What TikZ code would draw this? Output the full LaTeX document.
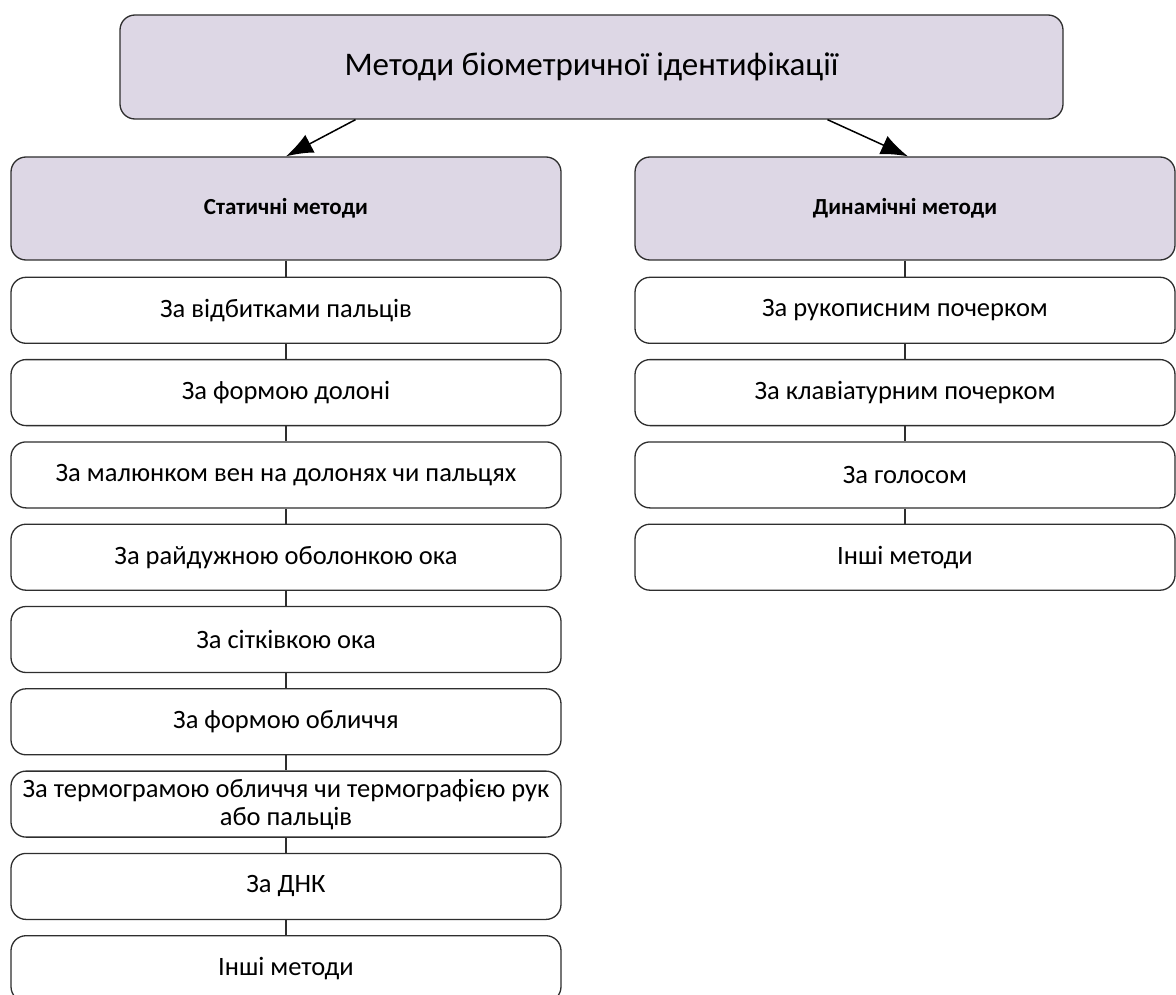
\documentclass[tikz,border=0pt]{standalone}
\usepackage{fontspec}
\setmainfont{Carlito}
\usetikzlibrary{positioning,arrows.meta}
\definecolor{bmlav}{HTML}{DDD7E5}
\definecolor{bmline}{HTML}{2E2E2E}
\tikzset{
  bmbox/.style  ={rectangle, rounded corners=15pt, draw=bmline, line width=1.3pt,
                  fill=white, text=black, align=center, font=\fontsize{26.5}{28}\selectfont,
                  minimum height=66pt, inner sep=1pt},
  bmhead/.style ={bmbox, fill=bmlav, minimum height=103pt,
                  font=\fontsize{23}{27}\selectfont\bfseries},
  bmtop/.style  ={bmbox, fill=bmlav, minimum height=104pt, minimum width=943pt,
                  font=\fontsize{33}{38}\selectfont},
  bml/.style    ={bmbox, minimum width=550pt},
  bmr/.style    ={bmbox, minimum width=540pt},
  bmarr/.style  ={-{Latex[length=27pt,width=20pt]}, line width=1.5pt, draw=black},
  bmlink/.style ={line width=1.3pt, draw=bmline}
}
\begin{document}
\begin{tikzpicture}[node distance=15pt]
  \clip (0,0) rectangle (1176pt,-995pt);
  \node[bmtop] (top) at (591.5pt,-67pt) {Методи біометричної ідентифікації};
  \node[bmhead,minimum width=550pt] (lhead) at (286pt,-208.5pt) {Статичні методи};
  \node[bmhead,minimum width=540pt] (rhead) at (905pt,-208.5pt) {Динамічні методи};
  \draw[bmarr] ([xshift=-236pt]top.south) -- (lhead.north);
  \draw[bmarr] ([xshift=236pt]top.south) -- ([xshift=3pt]rhead.north);
  % static methods
  \node[bml,below=16pt of lhead] (l1) {За відбитками пальців};
  \node[bml,below=of l1] (l2) {За формою долоні};
  \node[bml,below=of l2] (l3) {За малюнком вен на долонях чи пальцях};
  \node[bml,below=of l3] (l4) {За райдужною оболонкою ока};
  \node[bml,below=of l4] (l5) {За сітківкою ока};
  \node[bml,below=of l5] (l6) {За формою обличчя};
  \node[bml,below=of l6] (l7) {За термограмою обличчя чи термографією рук\\або пальців};
  \node[bml,below=of l7] (l8) {За ДНК};
  \node[bml,below=of l8] (l9) {Інші методи};
  \draw[bmlink] (lhead) -- (l1); \draw[bmlink] (l1) -- (l2); \draw[bmlink] (l2) -- (l3);
  \draw[bmlink] (l3) -- (l4); \draw[bmlink] (l4) -- (l5); \draw[bmlink] (l5) -- (l6);
  \draw[bmlink] (l6) -- (l7); \draw[bmlink] (l7) -- (l8); \draw[bmlink] (l8) -- (l9);
  % dynamic methods
  \node[bmr,below=16pt of rhead] (r1) {За рукописним почерком};
  \node[bmr,below=of r1] (r2) {За клавіатурним почерком};
  \node[bmr,below=of r2] (r3) {За голосом};
  \node[bmr,below=of r3] (r4) {Інші методи};
  \draw[bmlink] (rhead) -- (r1); \draw[bmlink] (r1) -- (r2);
  \draw[bmlink] (r2) -- (r3); \draw[bmlink] (r3) -- (r4);
\end{tikzpicture}
\end{document}
